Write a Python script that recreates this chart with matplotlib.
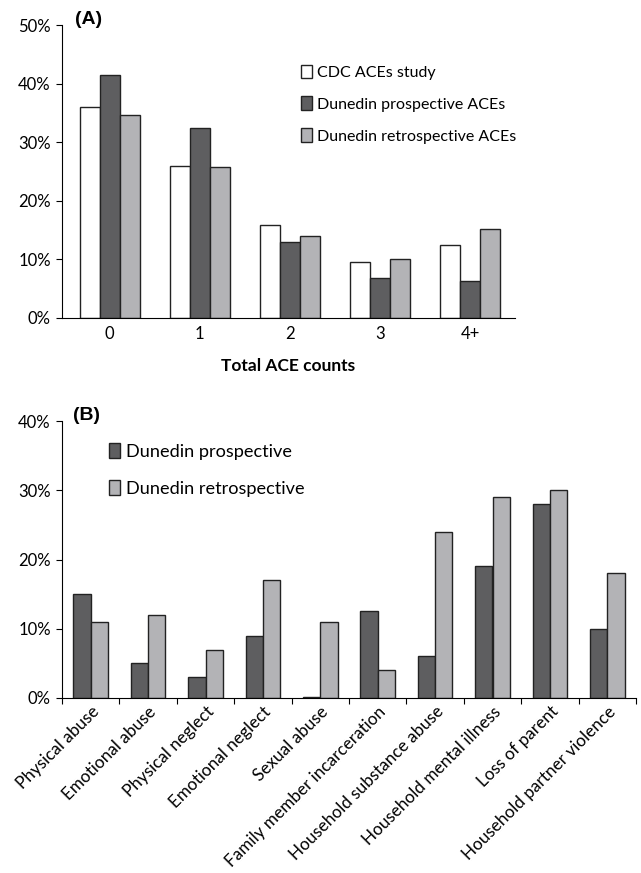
import matplotlib
matplotlib.use("Agg")
import matplotlib.pyplot as plt
from matplotlib.patches import Patch
from matplotlib.transforms import offset_copy
import numpy as np

# Panel A data
count_cats = ["0", "1", "2", "3", "4+"]
cdc = [36.0, 26.0, 15.8, 9.5, 12.5]
dun_pro_counts = [41.5, 32.5, 13.0, 6.8, 6.3]
dun_retro_counts = [34.7, 25.7, 14.0, 10.0, 15.2]

# Panel B data
ace_types = ["Physical abuse", "Emotional abuse", "Physical neglect", "Emotional neglect",
             "Sexual abuse", "Family member incarceration", "Household substance abuse",
             "Household mental illness", "Loss of parent", "Household partner violence"]
dun_pro_types = [15.0, 5.0, 3.0, 9.0, 0.2, 12.5, 6.0, 19.0, 28.0, 10.0]
dun_retro_types = [11.0, 12.0, 7.0, 17.0, 11.0, 4.0, 24.0, 29.0, 30.0, 18.0]

C_WHITE = "#ffffff"
C_DARK = "#5e5e60"
C_LIGHT = "#b3b3b6"
EDGE = "#222222"

FONT = ["Lato", "DejaVu Sans"]
plt.rcParams['font.family'] = FONT

fig = plt.figure(figsize=(6.41, 8.73), dpi=100)

# ---------------- Panel A ----------------
axA = fig.add_axes([62/641, 1-318/873, (515-62)/641, (318-25)/873])
x = np.arange(len(count_cats))
w = 0.222
axA.bar(x - w, cdc, w, color=C_WHITE, edgecolor=EDGE, linewidth=1, label="CDC ACEs study")
axA.bar(x, dun_pro_counts, w, color=C_DARK, edgecolor=EDGE, linewidth=1, label="Dunedin prospective ACEs")
axA.bar(x + w, dun_retro_counts, w, color=C_LIGHT, edgecolor=EDGE, linewidth=1, label="Dunedin retrospective ACEs")
axA.set_xlim(-0.53, 4.5)
axA.set_ylim(0, 50)
axA.set_yticks(np.arange(0, 51, 10))
axA.set_yticklabels([f"{v}%" for v in range(0, 51, 10)], fontsize=12)
axA.set_xticks(x)
axA.set_xticklabels(count_cats, fontsize=12)
axA.tick_params(axis='x', length=0, pad=6)
axA.tick_params(axis='y', length=4, direction='out', pad=4)
for s in ["top", "right"]:
    axA.spines[s].set_visible(False)
axA.set_xlabel("Total ACE counts", fontsize=12.5, fontweight='bold', labelpad=11)
axA.text(0.028, 1.0, "(A)", transform=offset_copy(axA.transAxes, fig=fig, y=6, units='dots'),
         fontsize=14, fontweight='bold', family="Liberation Sans", va='center', ha='left')
hA = [Patch(facecolor=c, edgecolor=EDGE, linewidth=1) for c in (C_WHITE, C_DARK, C_LIGHT)]
axA.legend(hA, ["CDC ACEs study", "Dunedin prospective ACEs", "Dunedin retrospective ACEs"],
           loc='upper left', bbox_to_anchor=(0.528, 0.865), frameon=False, fontsize=11.5,
           handlelength=0.7, handleheight=0.9, handletextpad=0.3, labelspacing=1.05,
           borderaxespad=0, borderpad=0)

# ---------------- Panel B ----------------
axB = fig.add_axes([62/641, 1-698/873, (636-62)/641, (698-421)/873])
xb = np.arange(len(ace_types))
wb = 0.3
axB.bar(xb - wb/2, dun_pro_types, wb, color=C_DARK, edgecolor=EDGE, linewidth=1, label="Dunedin prospective")
axB.bar(xb + wb/2, dun_retro_types, wb, color=C_LIGHT, edgecolor=EDGE, linewidth=1, label="Dunedin retrospective")
axB.set_xlim(-0.5, 9.5)
axB.set_ylim(0, 40)
axB.set_yticks(np.arange(0, 41, 10))
axB.set_yticklabels([f"{v}%" for v in range(0, 41, 10)], fontsize=12)
axB.set_xticks(np.arange(-0.5, 10, 1.0))
axB.set_xticklabels([])
axB.set_xticks(xb, minor=True)
axB.set_xticklabels(ace_types, minor=True, rotation=45, ha='right', rotation_mode='anchor', fontsize=12.3)
axB.tick_params(axis='x', which='major', length=4, direction='out')
axB.tick_params(axis='x', which='minor', length=0, pad=4)
axB.tick_params(axis='y', length=4, direction='out', pad=4)
for s in ["top", "right"]:
    axB.spines[s].set_visible(False)
axB.text(0.02, 1.0, "(B)", transform=offset_copy(axB.transAxes, fig=fig, y=6, units='dots'),
         fontsize=14, fontweight='bold', family="Liberation Sans", va='center', ha='left')
hB = [Patch(facecolor=c, edgecolor=EDGE, linewidth=1) for c in (C_DARK, C_LIGHT)]
axB.legend(hB, ["Dunedin prospective", "Dunedin retrospective"],
           loc='upper left', bbox_to_anchor=(0.082, 0.92), frameon=False, fontsize=13.1,
           handlelength=0.6, handleheight=0.9, handletextpad=0.35, labelspacing=1.1,
           borderaxespad=0, borderpad=0)

fig.savefig("out.png", dpi=100)
